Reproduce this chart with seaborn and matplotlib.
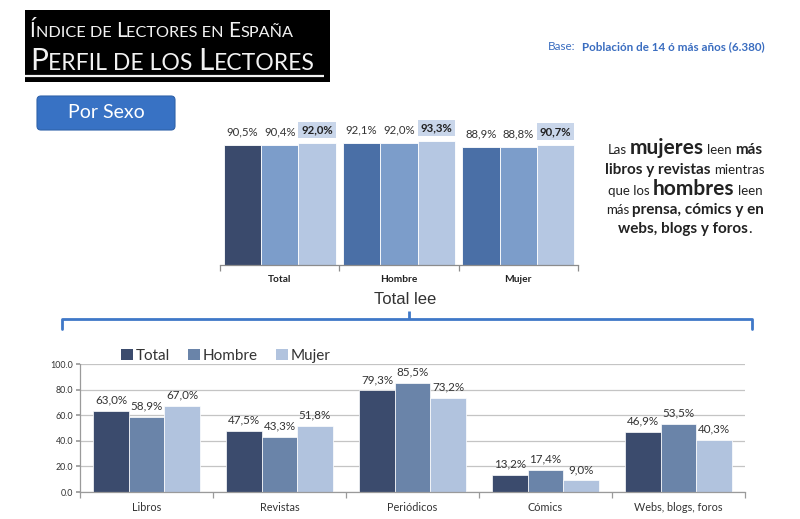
import matplotlib
matplotlib.use("Agg")
import matplotlib.pyplot as plt
from matplotlib.patches import Patch, Rectangle, FancyBboxPatch
from matplotlib.ticker import FixedLocator, FuncFormatter
import seaborn as sns
import pandas as pd

# ---------------- data ----------------
sexo_cats = ["Total", "Hombre", "Mujer"]
years = ["2010", "2011", "2012"]
sexo_2010 = [90.5, 92.1, 88.9]
sexo_2011 = [90.4, 92.0, 88.8]
sexo_2012 = [92.0, 93.3, 90.7]

lee_cats = ["Libros", "Revistas", "Periódicos", "Cómics", "Webs, blogs, foros"]
lee_groups = ["Total", "Hombre", "Mujer"]
lee_total = [63.0, 47.5, 79.3, 13.2, 46.9]
lee_hombre = [58.9, 43.3, 85.5, 17.4, 53.5]
lee_mujer = [67.0, 51.8, 73.2, 9.0, 40.3]
lee_yticks = [0, 20, 40, 60, 80, 100]

year_colors = ["#4a6fa6", "#7c9dca", "#b5c7e2"]
total2010_color = "#3a4a6c"
lee_colors = ["#3b4b6d", "#6a84a9", "#b1c3de"]

sns.set_theme(style="white")
plt.rcParams["font.family"] = ["Lato", "DejaVu Sans"]

W, H = 800, 519
fig = plt.figure(figsize=(W / 100, H / 100), dpi=100)
fig.patch.set_facecolor("white")

# overlay axes in pixel coordinates (y down)
ov = fig.add_axes([0, 0, 1, 1], zorder=0)
ov.set_xlim(0, W)
ov.set_ylim(H, 0)
ov.axis("off")
ov.patch.set_alpha(0)

def fx(x):
    return x / W

def fy(y):
    return 1 - y / H

# ---------------- top chart ----------------
df_s = pd.DataFrame({
    "cat": sexo_cats * 3,
    "year": [y for y in years for _ in sexo_cats],
    "val": sexo_2010 + sexo_2011 + sexo_2012,
})
ax1 = fig.add_axes([fx(220), fy(265), (578 - 220) / W, 132.6 / H], zorder=2)
sns.barplot(data=df_s, x="cat", y="val", hue="year", palette=year_colors,
            width=0.94, ax=ax1, legend=False, edgecolor="white", linewidth=0.6,
            saturation=1)
ax1.containers[0][0].set_facecolor(total2010_color)
ax1.set_ylim(0, 100)
ax1.set_xlim(-0.5, 2.5)
ax1.set_xlabel("")
ax1.set_ylabel("")
ax1.set_yticks([])
for s in ["top", "right", "left"]:
    ax1.spines[s].set_visible(False)
ax1.spines["bottom"].set_color("#8c8c8c")
ax1.spines["bottom"].set_linewidth(0.9)
ax1.tick_params(axis="x", which="major", length=0, pad=7, labelsize=7.3, labelcolor="#222222")
for lbl in ax1.get_xticklabels():
    lbl.set_fontweight("bold")
ax1.xaxis.set_minor_locator(FixedLocator([-0.5, 0.5, 1.5, 2.5]))
ax1.tick_params(axis="x", which="minor", length=4, color="#8c8c8c", width=0.9, direction="out", bottom=True)

for i, cont in enumerate(ax1.containers):
    labs = [f"{v:.1f}%".replace(".", ",") for v in cont.datavalues]
    if i == 2:
        ts = ax1.bar_label(cont, labels=labs, padding=5.5, fontsize=8.2, color="#222222",
                           fontweight="bold")
        for t in ts:
            t.set_bbox(dict(boxstyle="square,pad=0.25", fc="#c9d6ea", ec="none"))
    else:
        ax1.bar_label(cont, labels=labs, padding=5.5, fontsize=8.2, color="#333333")

h1 = [Patch(facecolor=c, edgecolor="none") for c in year_colors]
ov.legend(h1, years, loc="center", bbox_to_anchor=(fx(362), fy(102)),
          bbox_transform=fig.transFigure, ncol=3, frameon=False, fontsize=8.3,
          handlelength=0.7, handleheight=0.7, handletextpad=0.15, columnspacing=3.2,
          labelcolor="#333333")

# ---------------- bottom chart ----------------
df_l = pd.DataFrame({
    "cat": lee_cats * 3,
    "grp": [g for g in lee_groups for _ in lee_cats],
    "val": lee_total + lee_hombre + lee_mujer,
})
ax2 = fig.add_axes([fx(80), fy(492), (745 - 80) / W, 128 / H], zorder=2)
sns.barplot(data=df_l, x="cat", y="val", hue="grp", palette=lee_colors,
            width=0.8, ax=ax2, legend=False, saturation=1, edgecolor="white", linewidth=0.5)
ax2.set_ylim(0, 100)
ax2.set_xlim(-0.5, 4.5)
ax2.set_xlabel("")
ax2.set_ylabel("")
ax2.set_yticks(lee_yticks)
ax2.yaxis.set_major_formatter(FuncFormatter(lambda v, p: f"{v:.1f}"))
ax2.grid(axis="y", color="#c4c4c4", linewidth=0.9)
ax2.set_axisbelow(True)
for s in ["top", "right"]:
    ax2.spines[s].set_visible(False)
for s in ["left", "bottom"]:
    ax2.spines[s].set_color("#9a9a9a")
    ax2.spines[s].set_linewidth(0.9)
ax2.tick_params(axis="y", length=3, color="#9a9a9a", labelsize=6.4, labelcolor="#333333", pad=2, left=True)
ax2.tick_params(axis="x", which="major", length=0, pad=7, labelsize=7.8, labelcolor="#333333")
ax2.xaxis.set_minor_locator(FixedLocator([-0.5, 0.5, 1.5, 2.5, 3.5, 4.5]))
ax2.tick_params(axis="x", which="minor", length=4, color="#9a9a9a", width=0.9, bottom=True)

for cont in ax2.containers:
    labs = [f"{v:.1f}%".replace(".", ",") for v in cont.datavalues]
    ax2.bar_label(cont, labels=labs, padding=4, fontsize=8.4, color="#333333")

h2 = [Patch(facecolor=c, edgecolor="none") for c in lee_colors]
ov.legend(h2, lee_groups, loc="center", bbox_to_anchor=(fx(226), fy(356)),
          bbox_transform=fig.transFigure, ncol=3, frameon=False, fontsize=11,
          handlelength=0.75, handleheight=0.75, handletextpad=0.2, columnspacing=1.2,
          labelcolor="#333333")

# ---------------- decorations ----------------
renderer = fig.canvas.get_renderer()

def seq_text(pieces, x, y, align="left", color="#222222", family=None):
    """pieces: list of (text, size, weight). leading/trailing spaces -> gaps."""
    objs = []
    cur = 0.0
    for txt, size, weight in pieces:
        lead = len(txt) - len(txt.lstrip(" "))
        trail = len(txt) - len(txt.rstrip(" "))
        core = txt.strip(" ")
        sp = 0.26 * size * 100 / 72
        cur += lead * sp
        kw = dict(fontsize=size, fontweight=weight, color=color, va="baseline", ha="left")
        if family:
            kw["family"] = family
        t = ov.text(0, y, core, **kw)
        w = t.get_window_extent(renderer).width
        objs.append((t, cur))
        cur += w + trail * sp
    start = x if align == "left" else x - cur / 2
    for t, off in objs:
        t.set_x(start + off)
    return objs

# title box
ov.add_patch(Rectangle((25, 10), 305, 72, facecolor="black", edgecolor="none"))
tc = "#f2f2f2"
seq_text([("Í", 15, "normal"), ("NDICE DE ", 11.7, "normal"), ("L", 15, "normal"),
          ("ECTORES EN ", 11.7, "normal"), ("E", 15, "normal"), ("SPAÑA", 11.7, "normal")],
         30, 37, color=tc)
seq_text([("P", 21.5, "normal"), ("ERFIL DE LOS ", 16.6, "normal"), ("L", 21.5, "normal"),
          ("ECTORES", 16.6, "normal")], 30, 70, color=tc)
ov.plot([25, 324], [76, 76], color=tc, lw=1.6, solid_capstyle="butt")

# base text
seq_text([("Base:  ", 8.4, "normal"), ("Población de 14 ó más años (6.380)", 8.4, "bold")],
         548, 50, color="#3a6dc0")

# Por Sexo button
ov.add_patch(FancyBboxPatch((37, 96), 138, 34, boxstyle="round,pad=0,rounding_size=4",
                            facecolor="#3872c4", edgecolor="#2f62aa", lw=0.8))
ov.text(106, 113, "Por Sexo", fontsize=14, color="white", ha="center", va="center")

# right text block
cx = 685
seq_text([("Las ", 9.5, "normal"), ("mujeres", 15, "bold"), (" leen ", 9.5, "normal"), ("más", 11, "bold")],
         cx, 154, align="center")
seq_text([("libros y revistas", 11, "bold"), (" mientras", 9.5, "normal")], cx, 174, align="center")
seq_text([("que los ", 9.5, "normal"), ("hombres", 15, "bold"), (" leen", 9.5, "normal")],
         cx, 195, align="center")
seq_text([("más ", 9.5, "normal"), ("prensa, cómics y en", 11, "bold")], cx, 214, align="center")
seq_text([("webs, blogs y foros", 11, "bold"), (".", 11, "normal")], cx, 233, align="center")

# Total lee + bracket
ov.text(405, 299, "Total lee", fontsize=12, color="#333333", ha="center", va="center",
        family=["Liberation Sans", "DejaVu Sans"])
bc = "#3f78c8"
ov.plot([62, 62, 752, 752], [329, 319, 319, 329], color=bc, lw=2.0,
        solid_joinstyle="round", solid_capstyle="round")
ov.plot([409, 409], [311, 319], color=bc, lw=2.0, solid_capstyle="butt")

fig.savefig("out.png", dpi=100, facecolor="white")
